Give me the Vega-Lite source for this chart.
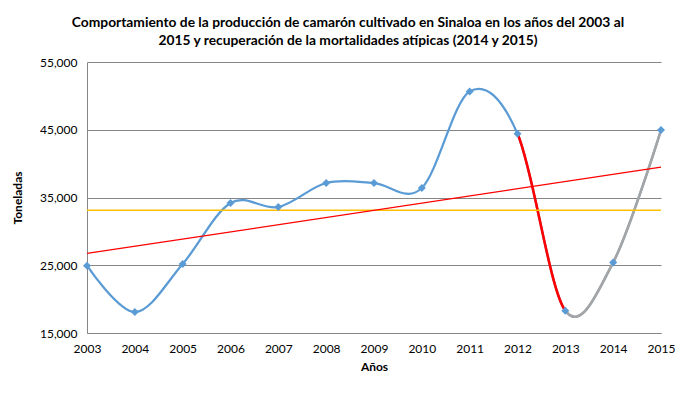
{
  "$schema": "https://vega.github.io/schema/vega-lite/v6.json",
  "width": 574,
  "height": 271,
  "autosize": {"type": "none"},
  "padding": {"left": 87, "top": 62, "right": 34, "bottom": 64},
  "background": "white",
  "config": {
    "view": {"stroke": null},
    "font": "Lato",
    "axis": {
      "labelFont": "Lato",
      "labelFontSize": 12,
      "labelColor": "#000000",
      "titleFont": "Lato",
      "titleFontSize": 12,
      "titleFontWeight": "bold",
      "titleColor": "#000000",
      "domainColor": "#868686",
      "gridColor": "#868686",
      "ticks": false,
      "tickSize": 0,
      "labelFlush": false,
      "labelOverlap": false
    }
  },
  "title": {
    "text": [
      "Comportamiento de la producción de camarón cultivado en Sinaloa en los años del 2003 al",
      "2015 y recuperación de la mortalidades atípicas (2014 y 2015)"
    ],
    "font": "Lato",
    "fontSize": 13.8,
    "fontWeight": "bold",
    "color": "#000000",
    "anchor": "middle",
    "frame": "group",
    "dx": -26,
    "offset": 8,
    "lineHeight": 18
  },
  "data": {
    "values": [
      {"year": 2003, "value": 24930},
      {"year": 2004, "value": 18100},
      {"year": 2005, "value": 25190},
      {"year": 2006, "value": 34190},
      {"year": 2007, "value": 33600},
      {"year": 2008, "value": 37140},
      {"year": 2009, "value": 37140},
      {"year": 2010, "value": 36400},
      {"year": 2011, "value": 50660},
      {"year": 2012, "value": 44420},
      {"year": 2013, "value": 18290},
      {"year": 2014, "value": 25420},
      {"year": 2015, "value": 44960}
    ]
  },
  "encoding": {
    "x": {
      "field": "year",
      "type": "quantitative",
      "scale": {"domain": [2003, 2015], "nice": false, "zero": false},
      "axis": {
        "values": [2003, 2004, 2005, 2006, 2007, 2008, 2009, 2010, 2011, 2012, 2013, 2014, 2015],
        "format": "d",
        "title": "Años",
        "grid": false,
        "labelPadding": 10,
        "titlePadding": 7
      }
    },
    "y": {
      "field": "value",
      "type": "quantitative",
      "scale": {"domain": [15000, 55000], "nice": false, "zero": false},
      "axis": {
        "values": [15000, 25000, 35000, 45000, 55000],
        "format": ",.0f",
        "title": "Toneladas",
        "grid": true,
        "labelPadding": 10,
        "titlePadding": 15
      }
    }
  },
  "layer": [
    {
      "mark": {"type": "line", "interpolate": "cardinal", "color": "#5B9BD5", "strokeWidth": 2.25}
    },
    {
      "mark": {"type": "line", "interpolate": "cardinal", "color": "#FF0000", "strokeWidth": 2.6, "strokeDash": [0, 598.75, 184, 5000]}
    },
    {
      "mark": {"type": "line", "interpolate": "cardinal", "color": "#A5A5A5", "strokeWidth": 2.6, "strokeDash": [0, 782.75, 5000]}
    },
    {
      "mark": {"type": "rule", "color": "#FFC000", "strokeWidth": 1.5},
      "encoding": {
        "x": null,
        "y": {"aggregate": "mean", "field": "value", "type": "quantitative"}
      }
    },
    {
      "transform": [{"regression": "value", "on": "year"}],
      "mark": {"type": "line", "color": "#FF0000", "strokeWidth": 1.2}
    },
    {
      "mark": {"type": "point", "shape": "diamond", "filled": true, "color": "#5B9BD5", "size": 64, "opacity": 1}
    }
  ]
}
